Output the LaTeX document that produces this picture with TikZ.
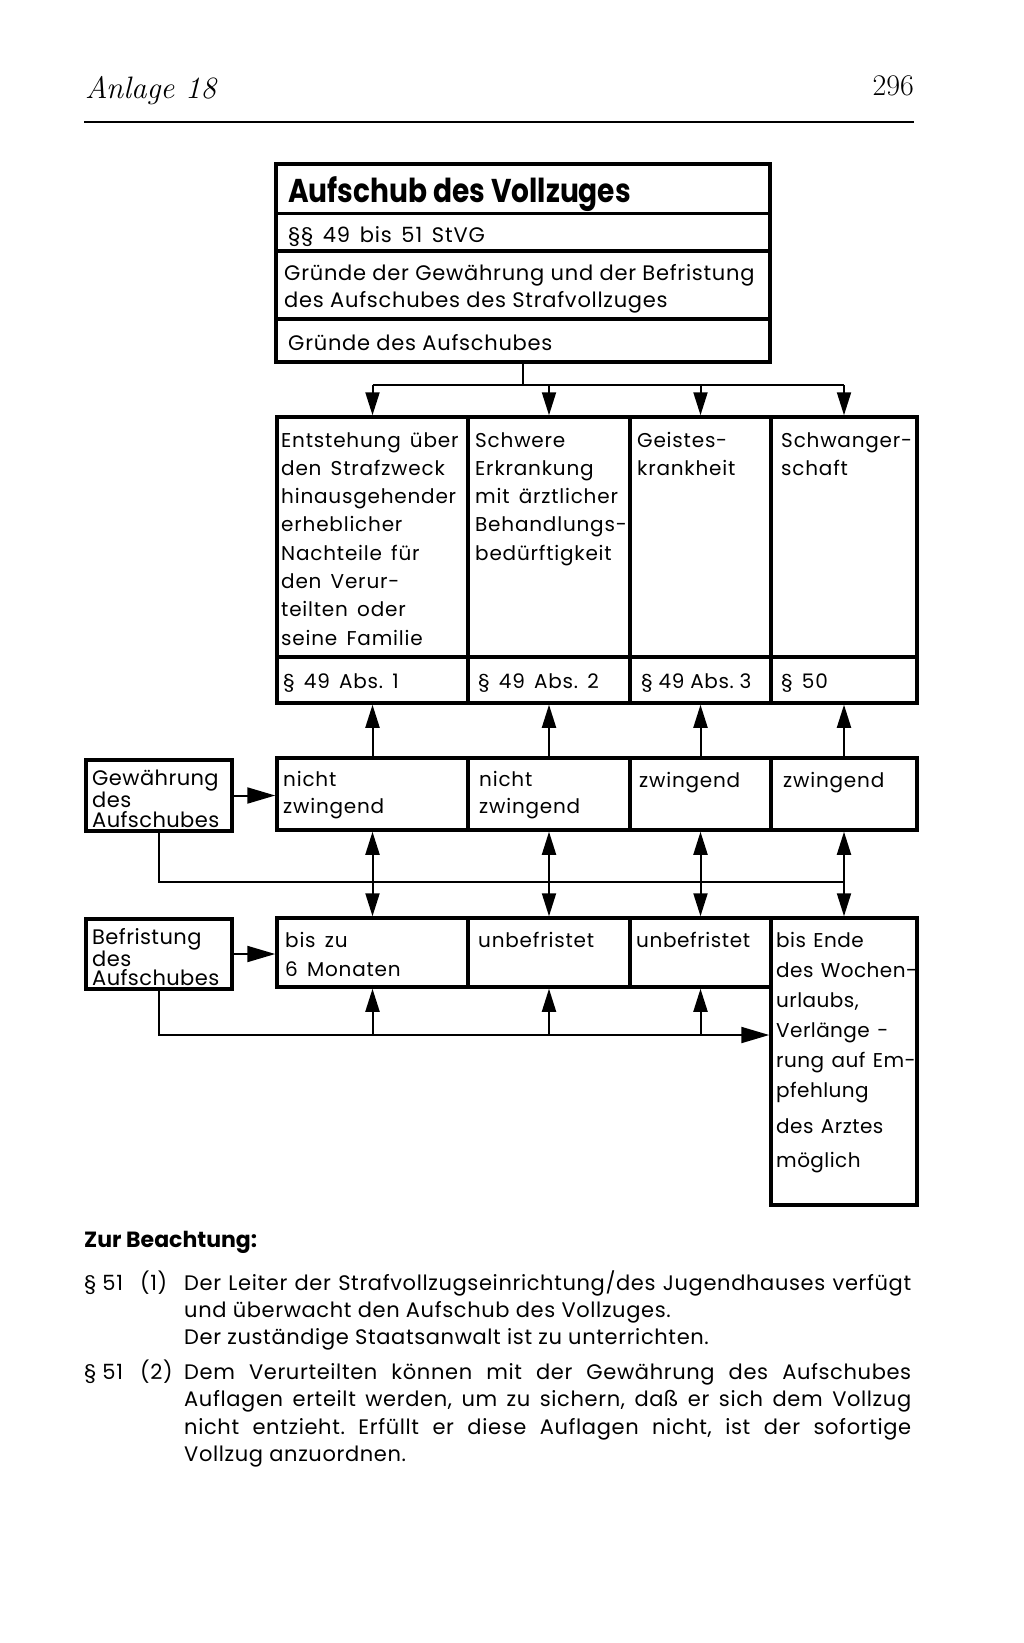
\documentclass[tikz,border=0pt]{standalone}
\usepackage{fontspec}
\usetikzlibrary{arrows.meta}
\newfontfamily\pop{Poppins}
\newfontfamily\popn[FakeStretch=0.85]{Poppins}
\newfontfamily\popt[LetterSpace=3.5]{Poppins}
\newfontfamily\popw[LetterSpace=4,WordSpace=1.5]{Poppins}
\newfontfamily\popc[LetterSpace=3,WordSpace=1.3]{Poppins}
\newfontfamily\popd[LetterSpace=2.2,WordSpace=1.3]{Poppins}
\newfontfamily\popb[LetterSpace=3]{Poppins}
\newfontfamily\popg[LetterSpace=2]{Poppins}
\newcommand\ml[2]{\parbox[t]{500pt}{\raggedright\baselineskip=#1pt #2}}
\frenchspacing
\tikzset{
  bx/.style={draw, line width=3.5pt, inner sep=0pt},
  conn/.style={line width=2pt},
  arr/.style={conn, -{Triangle[length=23pt,width=14pt]}},
  arrl/.style={conn, -{Triangle[length=28pt,width=16pt]}},
  dbl/.style={conn, {Triangle[length=23pt,width=14pt]}-{Triangle[length=23pt,width=14pt]}},
  tx/.style={anchor=base west, inner sep=0pt, font=\popw\fontsize{20}{28}\selectfont},
  ttx/.style={anchor=base west, inner sep=0pt, font=\popt\fontsize{21}{27}\selectfont},
  lbx/.style={anchor=base west, inner sep=0pt, font=\popg\fontsize{21}{20}\selectfont},
  btx/.style={anchor=base west, inner sep=0pt, font=\popb\fontsize{21}{27.5}\selectfont},
}
\begin{document}
\begin{tikzpicture}[x=1pt,y=-1pt]
\useasboundingbox[fill=white] (0,0) rectangle (1024,1643);

% header
\node[anchor=base west, inner sep=0pt, font=\fontsize{31}{36}\selectfont\itshape] (hd) at (85,99) {Anlage 18};
\node[anchor=base east, inner sep=0pt, font=\fontsize{30}{36}\selectfont] (pg) at (914,96) {296};
\coordinate (hl) at (84,122);
\coordinate (hr) at (914,122);
\draw[line width=1.3pt] (hl) -- (hr);

% title block
\node[bx, line width=3pt, minimum width=494pt, minimum height=49pt] (tr1) at (523,188.5) {};
\node[bx, line width=3pt, minimum width=494pt, minimum height=38pt] (tr2) at (523,232) {};
\node[bx, line width=4pt, minimum width=494pt, minimum height=68pt] (tr3) at (523,285) {};
\node[bx, line width=4pt, minimum width=494pt, minimum height=43pt] (tr4) at (523,340.5) {};
\node[bx, line width=4.5pt, minimum width=494pt, minimum height=198pt] (title) at (523,263) {};
\node[anchor=base west, inner sep=0pt, font=\popn\bfseries\fontsize{33}{40}\selectfont] (tt1) at (288,202) {Aufschub des Vollzuges};
\node[anchor=base west, inner sep=0pt, font=\popw\fontsize{21}{27}\selectfont] (tt2) at (288,242) {§§ 49 bis 51 StVG};
\node[ttx] (tt3) at (284,280) {\ml{27}{Gründe der Gewährung und der Befristung\\des Aufschubes des Strafvollzuges}};
\node[ttx] (tt4) at (288,350) {Gründe des Aufschubes};

% reasons table
\node[bx, minimum width=191pt, minimum height=240pt] (c1) at (372.5,537) {};
\node[bx, minimum width=162pt, minimum height=240pt] (c2) at (549,537) {};
\node[bx, minimum width=141pt, minimum height=240pt] (c3) at (700.5,537) {};
\node[bx, minimum width=146pt, minimum height=240pt] (c4) at (844,537) {};
\node[bx, minimum width=191pt, minimum height=46pt] (p1) at (372.5,680) {};
\node[bx, minimum width=162pt, minimum height=46pt] (p2) at (549,680) {};
\node[bx, minimum width=141pt, minimum height=46pt] (p3) at (700.5,680) {};
\node[bx, minimum width=146pt, minimum height=46pt] (p4) at (844,680) {};
\node[tx] (c1t) at (281,447) {\ml{28.3}{Entstehung über\\den Strafzweck\\hinausgehender\\erheblicher\\Nachteile für\\den Verur-\\teilten oder\\seine Familie}};
\node[tx] (c2t) at (475,447) {\ml{28.3}{Schwere\\Erkrankung\\mit ärztlicher\\Behandlungs-\\bedürftigkeit}};
\node[tx] (c3t) at (637,447) {\ml{28.3}{Geistes-\\krankheit}};
\node[tx] (c4t) at (781,447) {\ml{28.3}{Schwanger-\\schaft}};
\node[tx] (p1t) at (283,688) {§ 49 Abs. 1};
\node[tx] (p2t) at (478,688) {§ 49 Abs. 2};
\node[tx, font=\popc\fontsize{20}{28}\selectfont] (p3t) at (641,688) {§ 49 Abs. 3};
\node[tx] (p4t) at (781,688) {§ 50};

% Gewaehrung row
\node[bx, minimum width=146pt, minimum height=71pt] (gew) at (159,795.5) {};
\node[lbx] (gewt) at (92,785) {\ml{20}{Gewährung\\des\\Aufschubes}};
\node[bx, minimum width=191pt, minimum height=72pt] (g1) at (372.5,794) {};
\node[bx, minimum width=162pt, minimum height=72pt] (g2) at (549,794) {};
\node[bx, minimum width=141pt, minimum height=72pt] (g3) at (700.5,794) {};
\node[bx, minimum width=146pt, minimum height=72pt] (g4) at (844,794) {};
\node[tx] (g1t) at (283,786) {\ml{27}{nicht\\zwingend}};
\node[tx] (g2t) at (479,786) {\ml{27}{nicht\\zwingend}};
\node[tx] (g3t) at (639,787) {zwingend};
\node[tx] (g4t) at (783,787) {zwingend};

% Befristung row
\node[bx, minimum width=146pt, minimum height=70pt] (bef) at (159,954) {};
\node[lbx] (beft) at (92,944) {\ml{19.5}{Befristung\\des\\Aufschubes}};
\node[bx, minimum width=191pt, minimum height=69pt] (f1) at (372.5,952.5) {};
\node[bx, minimum width=162pt, minimum height=69pt] (f2) at (549,952.5) {};
\node[bx, minimum width=141pt, minimum height=69pt] (f3) at (700.5,952.5) {};
\node[bx, minimum width=146pt, minimum height=287pt] (f4) at (844,1061.5) {};
\node[tx] (f1t) at (285,947) {\ml{29}{bis zu\\6 Monaten}};
\node[tx] (f2t) at (478,947) {unbefristet};
\node[tx, font=\popc\fontsize{20}{28}\selectfont] (f3t) at (636,947) {unbefristet};
\node[tx, font=\popd\fontsize{20}{28}\selectfont] (f4t) at (776,947) {\ml{30}{bis Ende\\des Wochen-\\urlaubs,\\Verlänge -\\rung auf Em-\\pfehlung\\[6pt]des Arztes\\[4pt]möglich}};

% connectors: title to reasons
\coordinate (b0) at (523,385);
\coordinate (b1) at (372.5,385);
\coordinate (b2) at (549,385);
\coordinate (b3) at (700.5,385);
\coordinate (b4) at (844,385);
\draw[conn] (title.south) -- (b0);
\draw[conn] (b1) -- (b4);
\draw[arr] (b1) -- (c1.north);
\draw[arr] (b2) -- (c2.north);
\draw[arr] (b3) -- (c3.north);
\draw[arr] (b4) -- (c4.north);

% Gewaehrung to reasons
\draw[arr] (g1.north) -- (p1.south);
\draw[arr] (g2.north) -- (p2.south);
\draw[arr] (g3.north) -- (p3.south);
\draw[arr] (g4.north) -- (p4.south);
\draw[arrl] (gew.east) -- (gew.east -| g1.west);

% Gewaehrung to Befristung
\coordinate (j4) at (844,882);
\draw[conn] (gew.south) |- (j4);
\draw[dbl] (g1.south) -- (f1.north);
\draw[dbl] (g2.south) -- (f2.north);
\draw[dbl] (g3.south) -- (f3.north);
\draw[dbl] (g4.south) -- (f4.north);

% Befristung connectors
\draw[arrl] (bef.east) -- (bef.east -| f1.west);
\coordinate (kb) at (159,1035);
\coordinate (k1) at (372.5,1035);
\coordinate (k2) at (549,1035);
\coordinate (k3) at (700.5,1035);
\draw[arrl] (bef.south) -- (kb) -- (kb -| f4.west);
\draw[arr] (k1) -- (f1.south);
\draw[arr] (k2) -- (f2.south);
\draw[arr] (k3) -- (f3.south);

% notes
\node[anchor=base west, inner sep=0pt, font=\pop\bfseries\fontsize{22}{27}\selectfont] (zb) at (84,1247) {Zur Beachtung:};
\node[btx] (s1) at (84,1290) {§ 51};
\node[btx] (s1n) at (140,1290) {(1)};
\node[btx] (par1) at (184,1290) {\parbox[t]{727pt}{\baselineskip=27pt
  \hbox to 727pt{Der Leiter der Strafvollzugseinrichtung/des Jugendhauses verfügt}
  \hbox{und überwacht den Aufschub des Vollzuges.}
  \hbox{Der zuständige Staatsanwalt ist zu unterrichten.}}};
\node[btx] (s2) at (84,1379) {§ 51};
\node[btx] (s2n) at (140,1379) {(2)};
\node[btx] (par2) at (184,1379) {\parbox[t]{727pt}{\baselineskip=27.6pt
  \hbox to 727pt{Dem Verurteilten können mit der Gewährung des Aufschubes}
  \hbox to 727pt{Auflagen erteilt werden, um zu sichern, daß er sich dem Vollzug}
  \hbox to 727pt{nicht entzieht. Erfüllt er diese Auflagen nicht, ist der sofortige}
  \hbox{Vollzug anzuordnen.}}};
\end{tikzpicture}
\end{document}
